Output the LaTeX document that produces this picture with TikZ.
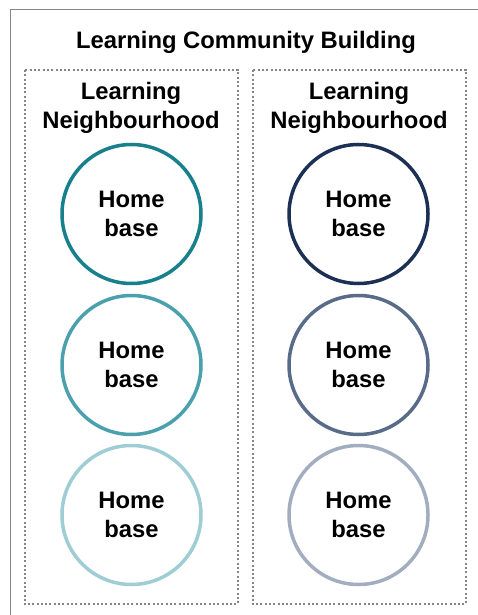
\documentclass[tikz,border=0pt]{standalone}
\usepackage{xcolor}
\usepackage{fontspec}
\setmainfont{Liberation Sans}
\usepackage{tikz}
\pgfdeclarelayer{nodelayer}
\pgfdeclarelayer{edgelayer}
\pgfsetlayers{nodelayer,edgelayer,main}
\definecolor{tealA}{HTML}{17808C}
\definecolor{tealB}{HTML}{4AA1AD}
\definecolor{tealC}{HTML}{9ECDD4}
\definecolor{navyA}{HTML}{1C2F55}
\definecolor{navyB}{HTML}{586C8A}
\definecolor{navyC}{HTML}{A2ADC0}
\definecolor{framegrey}{HTML}{858585}

\begin{document}
\begin{tikzpicture}[x=1pt, y=-1pt,
    label text/.style={font=\fontsize{23.8}{28.5}\selectfont\bfseries, align=center},
    home/.style={circle, draw=#1, line width=3.5pt, minimum size=139pt, inner sep=0pt, label text},
    neighbourhood/.style={draw=framegrey, line width=2pt, dash pattern=on 2pt off 2.3pt}]
  \useasboundingbox (0,0) rectangle (478,615);
  \begin{pgfonlayer}{nodelayer}
    \node [label text, anchor=base] (0) at (246, 49) {Learning Community Building};
    \node [label text] (1) at (131, 108) {Learning\\Neighbourhood};
    \node [label text] (2) at (359, 108) {Learning\\Neighbourhood};
    \node [home=tealA] (3) at (131.5, 214) {Home\\base};
    \node [home=tealB] (4) at (131.5, 365) {Home\\base};
    \node [home=tealC] (5) at (131.5, 515) {Home\\base};
    \node [home=navyA] (6) at (358.5, 214) {Home\\base};
    \node [home=navyB] (7) at (358.5, 365) {Home\\base};
    \node [home=navyC] (8) at (358.5, 515) {Home\\base};
  \end{pgfonlayer}
  \begin{pgfonlayer}{edgelayer}
    \draw [framegrey, line width=1.8pt] (10.5, 615) -- (10.5, 9.5) -- (478, 9.5);
    \draw [neighbourhood] (24.5, 70) rectangle (238, 604);
    \draw [neighbourhood] (252.5, 70) rectangle (466, 604);
  \end{pgfonlayer}
\end{tikzpicture}
\end{document}
